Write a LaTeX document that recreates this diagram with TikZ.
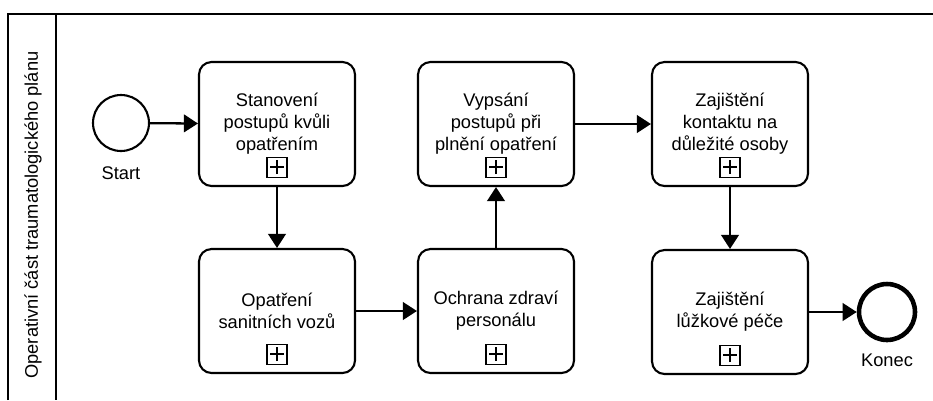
\documentclass[tikz,border=0pt]{standalone}
\usepackage{fontspec}
\setmainfont{Liberation Sans}
\usetikzlibrary{positioning,arrows.meta}

\begin{document}
\begin{tikzpicture}[x=0.02cm, y=-0.02cm, >={Triangle[length=8pt,width=10pt]}, font=\fontsize{10.4}{12.6}\selectfont,
    pool/.style={draw, line width=1.7pt},
    task/.style={rectangle, rounded corners=0.25cm, draw, line width=1.2pt, minimum width=3.12cm, minimum height=2.48cm, align=center},
    marker/.style={rectangle, draw, line width=0.6pt, minimum size=0.4cm, inner sep=0pt, outer sep=0pt,
        path picture={\draw[line width=1.6pt] ([xshift=-0.14cm]path picture bounding box.center) -- ([xshift=0.14cm]path picture bounding box.center)
            ([yshift=-0.14cm]path picture bounding box.center) -- ([yshift=0.14cm]path picture bounding box.center);}},
    start event/.style={circle, draw, line width=1.2pt, minimum size=1.12cm, inner sep=0pt},
    end event/.style={circle, draw, line width=2.6pt, minimum size=1.12cm, inner sep=0pt}]
    \useasboundingbox (0,0) rectangle (933,400);

    % pool and lane
    \draw[pool] (8,400) -- (8,14) -- (933,14);
    \draw[pool] (56,14) -- (56,400);
    \node[rotate=90] (lane) at (33,215) {Operativní část traumatologického plánu};

    \node[start event] (start) at (121,123) {};
    \node (startlbl) at (121,173) {Start};

    \node[task] (stanoveni) at (277,124) {Stanovení\\postupů kvůli\\opatřením};
    \node[task] (vozy) at (277,311) {Opatření\\sanitních vozů};
    \node[task] (ochrana) at (496,311) {Ochrana zdraví\\personálu};
    \node[task] (vypsani) at (496,124) {Vypsání\\postupů při\\plnění opatření};
    \node[task] (kontakt) at (730,124) {Zajištění\\kontaktu na\\důležité osoby};
    \node[task] (pece) at (730,312) {Zajištění\\lůžkové péče};

    \node[end event] (end) at (887,312) {};
    \node (endlbl) at (887,360) {Konec};

    \node[marker, above=0.2cm of stanoveni.south] (stanoveni-m) {};
    \node[marker, above=0.2cm of vozy.south] (vozy-m) {};
    \node[marker, above=0.2cm of ochrana.south] (ochrana-m) {};
    \node[marker, above=0.2cm of vypsani.south] (vypsani-m) {};
    \node[marker, above=0.2cm of kontakt.south] (kontakt-m) {};
    \node[marker, above=0.2cm of pece.south] (pece-m) {};

    \path[->, line width=1.3pt]
        (start) edge (stanoveni)
        (stanoveni) edge (vozy)
        (vozy) edge (ochrana)
        (ochrana) edge (vypsani)
        (vypsani) edge (kontakt)
        (kontakt) edge (pece)
        (pece) edge (end);
\end{tikzpicture}
\end{document}
